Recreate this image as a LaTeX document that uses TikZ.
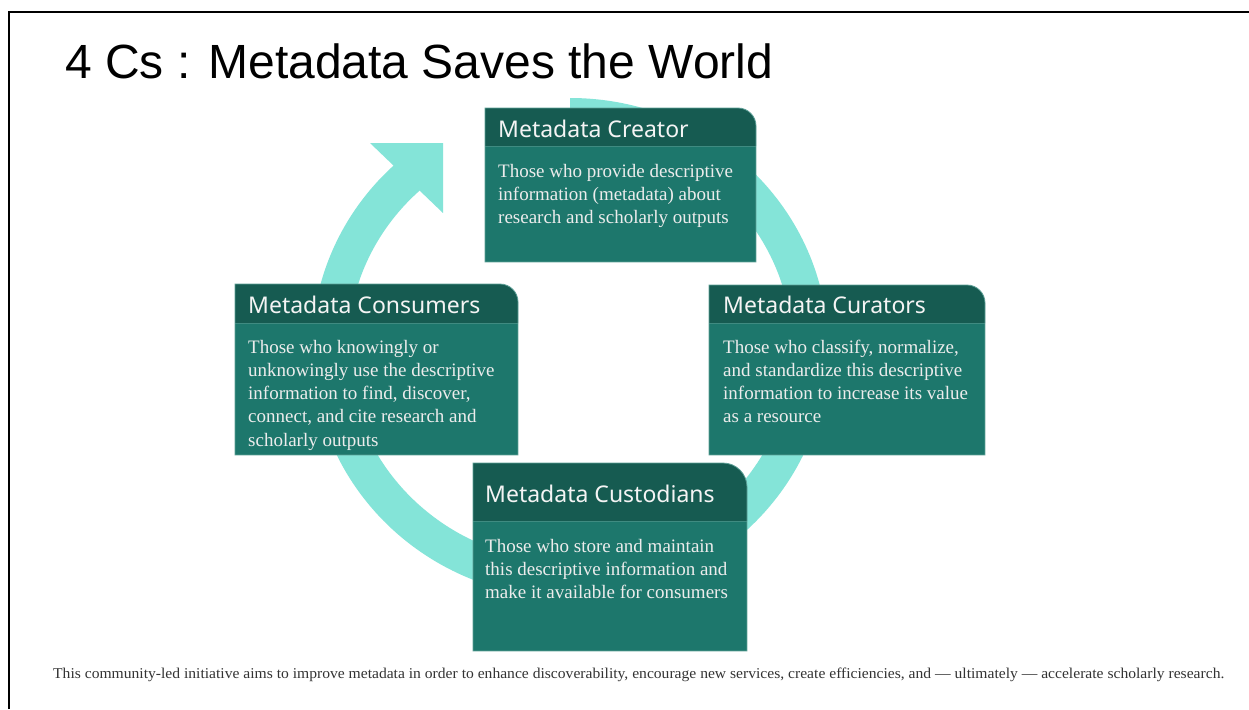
\documentclass[tikz,border=0pt]{standalone}
\usepackage{fontspec}
\setmainfont{Liberation Sans}
\newfontfamily\hfont{Noto Sans}
\newfontfamily\bfont{Liberation Serif}
\usepackage{graphicx}
\definecolor{ringcol}{HTML}{84E4D8}
\definecolor{hdrcol}{HTML}{165B51}
\definecolor{bodycol}{HTML}{1D776C}
\definecolor{sepcol}{HTML}{3F8B81}
\definecolor{edgecol}{HTML}{5C9F96}
\definecolor{titlewhite}{HTML}{F4F4F4}
\definecolor{bodywhite}{HTML}{ECECEC}
\definecolor{footgray}{HTML}{333333}
\newcommand\cardbox[6]{%
  \fill[bodycol] (#1,-#4) rectangle (#3,-#5);
  \fill[hdrcol] (#1,-#4) -- (#1,-#2) -- ({#3-#6},-#2) arc[start angle=90,end angle=0,radius=#6] -- (#3,-#4) -- cycle;
  \draw[sepcol, line width=1pt] (#1,-#4) -- (#3,-#4);
  \draw[edgecol, line width=0.8pt] (#1,-#5) -- (#1,-#2) -- ({#3-#6},-#2) arc[start angle=90,end angle=0,radius=#6] -- (#3,-#5) -- cycle;
}
\newcommand\bodylines[1]{\parbox[t]{260pt}{\raggedright #1}}
\begin{document}
\begin{tikzpicture}[x=1pt,y=1pt,
  hdr/.style={font=\hfont\fontsize{23}{28}\selectfont, text=titlewhite, anchor=base west, inner sep=0pt},
  bodytext/.style={font=\bfont\fontsize{19}{23.3}\selectfont, text=bodywhite, anchor=base west, inner sep=0pt}]
\useasboundingbox (0,0) rectangle (1249,-709);
\fill[white] (0,0) rectangle (1249,-709);
\draw[line width=2pt] (9,-709) -- (9,-12) -- (1249,-12);

\node[anchor=base west, inner sep=0pt, font=\fontsize{48}{56}\selectfont] (title) at (65,-78) {4 Cs : Metadata Saves the World};

% cycle ring with arrow head
\draw[ringcol, line width=36pt] (570,-116) arc[start angle=90, end angle=-228, x radius=240, y radius=232];
\fill[ringcol] (370,-143) -- (443,-143) -- (443,-213) -- cycle;

% boxes
\cardbox{485}{108}{756}{146}{262}{18}
\cardbox{235}{284}{518}{323}{455}{18}
\cardbox{709}{285}{985}{323}{455}{18}
\cardbox{473}{463}{747}{521}{651}{24}

\node[hdr] (creatorT) at (498,-137) {Metadata Creator};
\node[bodytext] (creatorB) at (498,-177) {\bodylines{Those who provide descriptive\\information (metadata) about\\research and scholarly outputs}};

\node[hdr] (consumT) at (248,-313) {Metadata Consumers};
\node[bodytext] (consumB) at (248,-353) {\bodylines{Those who knowingly or\\unknowingly use the descriptive\\information to find, discover,\\connect, and cite research and\\scholarly outputs}};

\node[hdr] (curatT) at (723,-313) {Metadata Curators};
\node[bodytext] (curatB) at (723,-353) {\bodylines{Those who classify, normalize,\\and standardize this descriptive\\information to increase its value\\as a resource}};

\node[hdr] (custT) at (485,-502) {Metadata Custodians};
\node[bodytext] (custB) at (485,-552) {\bodylines{Those who store and maintain\\this descriptive information and\\make it available for consumers}};

\node[anchor=base west, inner sep=0pt, text=footgray, font=\bfont\fontsize{15}{18}\selectfont] (foot) at (53,-678) {\resizebox{1171pt}{\height}{This community-led initiative aims to improve metadata in order to enhance discoverability, encourage new services, create efficiencies, and — ultimately — accelerate scholarly research.}};
\end{tikzpicture}
\end{document}
